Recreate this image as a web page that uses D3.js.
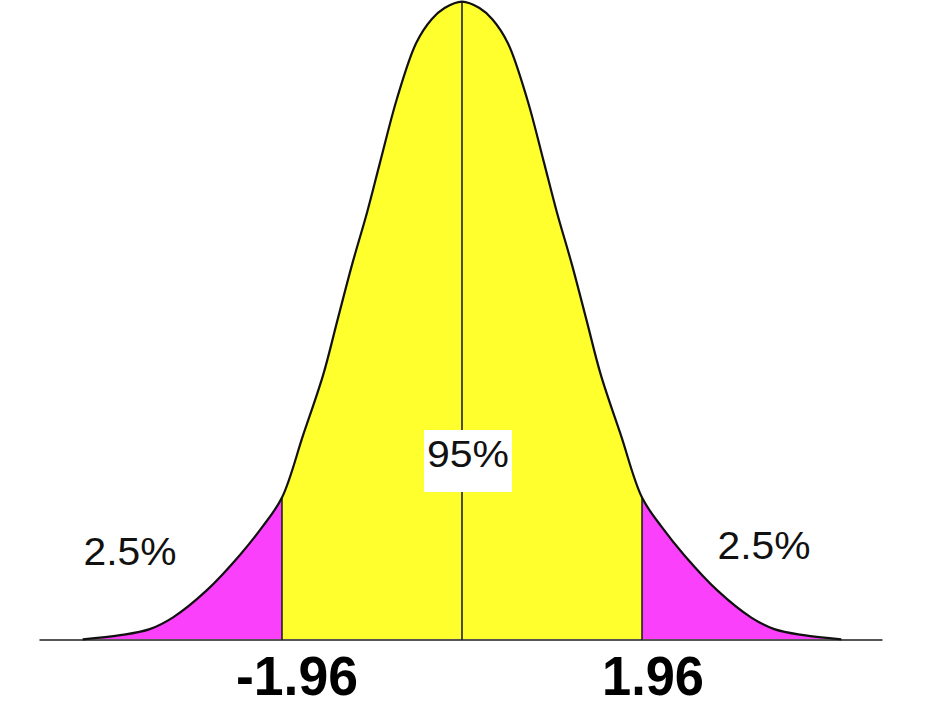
<!DOCTYPE html>
<html>
<head>
<meta charset="utf-8">
<script src="https://cdn.jsdelivr.net/npm/d3@7"></script>
<style>
  html, body { margin: 0; padding: 0; background: #fff; }
  svg { display: block; }
  text { font-family: "Liberation Sans", Arial, sans-serif; }
</style>
</head>
<body>
<svg id="chart" width="928" height="708"></svg>
<script>
// ---- data ----
const zValues = [-4.13, -3.72, -3.40, -3.15, -2.78, -2.42, -2.17, -1.96, -1.73, -1.51, -1.36, -1.20, -1.03, -0.89, -0.71, -0.50, -0.33, -0.19, 0,
                  0.19, 0.33, 0.50, 0.71, 0.89, 1.03, 1.20, 1.36, 1.51, 1.73, 1.96, 2.17, 2.42, 2.78, 3.15, 3.40, 3.72, 4.13];
const densities = [0.0004, 0.0030, 0.0068, 0.0140, 0.031, 0.053, 0.071, 0.089, 0.128, 0.166, 0.199, 0.234, 0.268, 0.299, 0.338, 0.373, 0.388, 0.395, 0.399,
                   0.395, 0.388, 0.373, 0.338, 0.299, 0.268, 0.234, 0.199, 0.166, 0.128, 0.089, 0.071, 0.053, 0.031, 0.0140, 0.0068, 0.0030, 0.0004];
const criticalValues = [-1.96, 1.96];
const tickLabels = ["-1.96", "1.96"];
const regionLabels = ["2.5%", "95%", "2.5%"];
const axisDomain = [-4.6, 4.6];
const densityDomain = [0, 0.4];

// ---- drawing ----
const svg = d3.select("#chart");
const x = d3.scaleLinear().domain(axisDomain).range([39.5, 884.5]);
const y = d3.scaleLinear().domain(densityDomain).range([640, 0]);

const pts = zValues.map((z, i) => ({ z, d: densities[i] }));
const curve = d3.curveCatmullRom.alpha(0.5);

const line = d3.line().x(p => x(p.z)).y(p => y(p.d)).curve(curve);
const fullPath = line(pts);

const lo = criticalValues[0], hi = criticalValues[1];

// clip regions: fill under the full curve, then clip to each band
const defs = svg.append("defs");
const bands = [
  { id: "clipL", from: axisDomain[0], to: lo, fill: "#fa40fa" },
  { id: "clipM", from: lo, to: hi, fill: "#ffff2e" },
  { id: "clipR", from: hi, to: axisDomain[1], fill: "#fa40fa" }
];
const areaPath = d3.area().x(p => x(p.z)).y0(y(0)).y1(p => y(p.d)).curve(curve)(pts);
bands.forEach(b => {
  defs.append("clipPath").attr("id", b.id)
    .append("rect")
    .attr("x", x(b.from)).attr("y", 0)
    .attr("width", x(b.to) - x(b.from)).attr("height", y(0));
  svg.append("path").attr("d", areaPath)
    .attr("fill", b.fill).attr("clip-path", `url(#${b.id})`);
});

// baseline axis
svg.append("line")
  .attr("x1", x(axisDomain[0])).attr("x2", x(axisDomain[1]) - 2)
  .attr("y1", y(0)).attr("y2", y(0))
  .attr("stroke", "#555").attr("stroke-width", 2);

// vertical lines at critical values and centre
const densAt = z => pts.find(p => Math.abs(p.z - z) < 1e-9).d;
[lo, 0, hi].forEach(z => {
  svg.append("line")
    .attr("x1", x(z)).attr("x2", x(z))
    .attr("y1", y(0)).attr("y2", y(densAt(z)))
    .attr("stroke", "#222").attr("stroke-width", 1.6);
});

// curve outline
svg.append("path").attr("d", fullPath)
  .attr("fill", "none").attr("stroke", "#111").attr("stroke-width", 2.2);

// centre label with white box
const cx = x(0) + 6;
svg.append("rect")
  .attr("x", cx - 44).attr("y", 430).attr("width", 88).attr("height", 62)
  .attr("fill", "#fff");
svg.append("text")
  .attr("x", cx).attr("y", 467)
  .attr("text-anchor", "middle")
  .attr("font-size", 37)
  .attr("textLength", 82).attr("lengthAdjust", "spacingAndGlyphs")
  .attr("fill", "#111")
  .text(regionLabels[1]);

// tail labels
svg.append("text")
  .attr("x", 130).attr("y", 565)
  .attr("text-anchor", "middle")
  .attr("font-size", 38)
  .attr("textLength", 93).attr("lengthAdjust", "spacingAndGlyphs")
  .attr("fill", "#111")
  .text(regionLabels[0]);
svg.append("text")
  .attr("x", 764).attr("y", 559)
  .attr("text-anchor", "middle")
  .attr("font-size", 38)
  .attr("textLength", 93).attr("lengthAdjust", "spacingAndGlyphs")
  .attr("fill", "#111")
  .text(regionLabels[2]);

// bold critical-value labels
criticalValues.forEach((z, i) => {
  svg.append("text")
    .attr("x", x(z) + (i === 0 ? 15 : 11)).attr("y", 695)
    .attr("text-anchor", "middle")
    .attr("font-size", 56)
    .attr("font-weight", "bold")
    .attr("textLength", i === 0 ? 122 : 102).attr("lengthAdjust", "spacingAndGlyphs")
    .attr("fill", "#000")
    .text(tickLabels[i]);
});
</script>
</body>
</html>
